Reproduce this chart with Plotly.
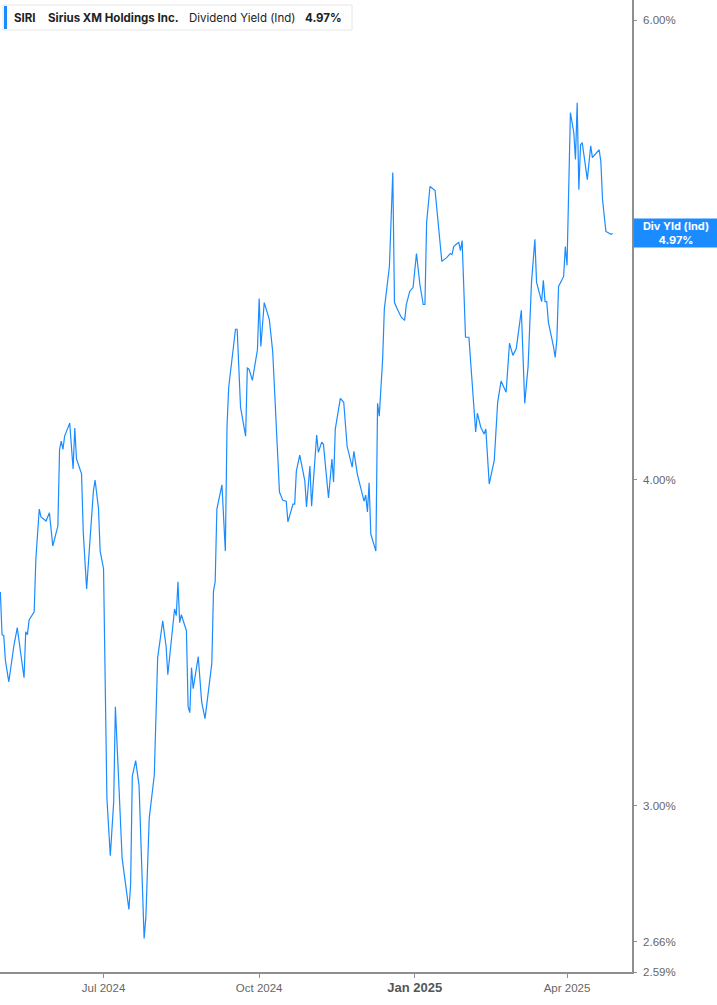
import math
import plotly.graph_objects as go

# ---- data ----
dates = [
    "2024-05-01", "2024-05-02", "2024-05-03", "2024-05-04", "2024-05-06", "2024-05-09", "2024-05-11",
    "2024-05-15", "2024-05-16", "2024-05-17", "2024-05-18", "2024-05-21", "2024-05-22", "2024-05-24",
    "2024-05-25", "2024-05-28", "2024-05-30", "2024-06-01", "2024-06-04", "2024-06-05", "2024-06-06",
    "2024-06-07", "2024-06-08", "2024-06-11", "2024-06-13", "2024-06-14", "2024-06-15", "2024-06-18",
    "2024-06-19", "2024-06-21", "2024-06-25", "2024-06-26", "2024-06-28", "2024-06-29", "2024-07-01",
    "2024-07-03", "2024-07-05", "2024-07-07", "2024-07-08", "2024-07-10", "2024-07-12", "2024-07-16",
    "2024-07-17", "2024-07-18", "2024-07-20", "2024-07-22", "2024-07-24", "2024-07-25", "2024-07-26",
    "2024-07-27", "2024-07-28", "2024-07-31", "2024-08-01", "2024-08-02", "2024-08-05", "2024-08-07",
    "2024-08-08", "2024-08-10", "2024-08-12", "2024-08-13", "2024-08-14", "2024-08-15", "2024-08-16",
    "2024-08-19", "2024-08-20", "2024-08-21", "2024-08-22", "2024-08-23", "2024-08-26", "2024-08-28",
    "2024-08-30", "2024-09-03", "2024-09-04", "2024-09-05", "2024-09-06", "2024-09-09", "2024-09-11",
    "2024-09-12", "2024-09-13", "2024-09-17", "2024-09-18", "2024-09-20", "2024-09-23", "2024-09-24",
    "2024-09-25", "2024-09-27", "2024-09-30", "2024-10-01", "2024-10-02", "2024-10-04", "2024-10-07",
    "2024-10-09", "2024-10-11", "2024-10-13", "2024-10-15", "2024-10-17", "2024-10-18", "2024-10-21",
    "2024-10-22", "2024-10-23", "2024-10-25", "2024-10-28", "2024-10-29", "2024-10-31", "2024-11-01",
    "2024-11-04", "2024-11-05", "2024-11-07", "2024-11-08", "2024-11-11", "2024-11-13", "2024-11-14",
    "2024-11-15", "2024-11-18", "2024-11-20", "2024-11-22", "2024-11-25", "2024-11-26", "2024-11-28",
    "2024-12-02", "2024-12-03", "2024-12-04", "2024-12-05", "2024-12-06", "2024-12-09", "2024-12-10",
    "2024-12-11", "2024-12-13", "2024-12-14", "2024-12-17", "2024-12-19", "2024-12-20", "2024-12-22",
    "2024-12-24", "2024-12-26", "2024-12-27", "2024-12-29", "2024-12-31", "2025-01-02", "2025-01-04",
    "2025-01-06", "2025-01-07", "2025-01-08", "2025-01-10", "2025-01-13", "2025-01-17", "2025-01-20",
    "2025-01-22", "2025-01-23", "2025-01-24", "2025-01-26", "2025-01-27", "2025-01-28", "2025-01-29",
    "2025-01-31", "2025-02-02", "2025-02-06", "2025-02-07", "2025-02-09", "2025-02-11", "2025-02-12",
    "2025-02-14", "2025-02-17", "2025-02-19", "2025-02-21", "2025-02-24", "2025-02-26", "2025-02-28",
    "2025-03-02", "2025-03-05", "2025-03-07", "2025-03-09", "2025-03-11", "2025-03-13", "2025-03-14",
    "2025-03-17", "2025-03-18", "2025-03-19", "2025-03-20", "2025-03-21", "2025-03-24", "2025-03-25",
    "2025-03-26", "2025-03-27", "2025-03-30", "2025-03-31", "2025-04-01", "2025-04-02", "2025-04-03",
    "2025-04-05", "2025-04-06", "2025-04-07", "2025-04-08", "2025-04-09", "2025-04-10", "2025-04-13",
    "2025-04-15", "2025-04-16", "2025-04-20", "2025-04-21", "2025-04-22", "2025-04-24", "2025-04-27",
    "2025-04-28",
]

div_yield = [
    3.622, 3.488, 3.485, 3.409, 3.346, 3.454, 3.510,
    3.358, 3.497, 3.488, 3.534, 3.559, 3.729, 3.897,
    3.870, 3.856, 3.884, 3.772, 3.839, 4.108, 4.138,
    4.108, 4.156, 4.204, 4.037, 4.186, 4.073, 4.020,
    3.819, 3.632, 3.959, 3.998, 3.900, 3.755, 3.697,
    3.018, 2.870, 3.010, 3.273, 3.064, 2.863, 2.737,
    2.796, 3.078, 3.121, 3.053, 2.796, 2.668, 2.716,
    2.868, 2.966, 3.081, 3.287, 3.418, 3.531, 3.451,
    3.367, 3.460, 3.568, 3.547, 3.655, 3.525, 3.550,
    3.500, 3.273, 3.256, 3.388, 3.326, 3.421, 3.287,
    3.239, 3.400, 3.625, 3.655, 3.897, 3.981, 3.755,
    4.193, 4.339, 4.567, 4.567, 4.263, 4.156, 4.413,
    4.409, 4.366, 4.486, 4.693, 4.498, 4.676, 4.607,
    4.479, 4.219, 3.956, 3.927, 3.924, 3.853, 3.914,
    3.914, 4.030, 4.087, 3.995, 3.904, 4.048, 3.907,
    4.160, 4.097, 4.134, 4.126, 3.935, 4.073, 3.991,
    4.182, 4.297, 4.282, 4.119, 4.044, 4.101, 4.020,
    3.924, 3.945, 3.887, 3.988, 3.812, 3.755, 4.278,
    4.230, 4.448, 4.648, 4.828, 5.245, 4.676, 4.644,
    4.616, 4.603, 4.668, 4.722, 4.739, 4.883, 4.752,
    4.668, 4.668, 5.019, 5.180, 5.162, 4.849, 4.866,
    4.883, 4.878, 4.913, 4.926, 4.931, 4.895, 4.939,
    4.535, 4.535, 4.171, 4.241, 4.189, 4.164, 4.182,
    3.984, 4.069, 4.282, 4.363, 4.320, 4.511, 4.463,
    4.490, 4.644, 4.278, 4.421, 4.760, 4.944, 4.760,
    4.680, 4.769, 4.680, 4.680, 4.595, 4.498, 4.455,
    4.527, 4.743, 4.785, 4.913, 4.832, 5.107, 5.529,
    5.433, 5.305, 5.577, 5.166, 5.375, 5.385, 5.212,
    5.370, 5.314, 5.351, 5.295, 5.120, 4.979, 4.966,
    4.970,
]

x_tick_vals = ["2024-07-01", "2024-10-01", "2025-01-01", "2025-04-01"]
x_tick_text = ["Jul 2024", "Oct 2024",
               "<b><span style='font-size:13px;color:#555'>Jan 2025</span></b>", "Apr 2025"]
y_tick_vals = [2.59, 2.66, 3.0, 4.0, 6.0]
y_tick_text = ["2.59%", "2.66%", "3.00%", "4.00%", "6.00%"]

ticker = "SIRI"
company = "Sirius XM Holdings Inc."
metric = "Dividend Yield (Ind)"
last_val = div_yield[-1]

LINE = "#1a8cff"
AXIS = "#8f8f8f"

fig = go.Figure()
fig.add_trace(go.Scatter(
    x=dates, y=div_yield, mode="lines",
    line=dict(color=LINE, width=1.2),
    showlegend=False, hoverinfo="x+y",
))

fig.update_layout(
    width=717, height=1005,
    margin=dict(l=0, r=85, t=0, b=33),
    paper_bgcolor="white", plot_bgcolor="white",
    font=dict(family="Liberation Sans, Arial, sans-serif", color="#666666", size=11),
    xaxis=dict(
        range=["2024-04-30 19:00", "2025-05-09 10:00"],
        tickmode="array", tickvals=x_tick_vals, ticktext=x_tick_text,
        showgrid=False, zeroline=False,
        showline=True, linecolor=AXIS, linewidth=2,
        ticks="outside", ticklen=4, tickcolor=AXIS, tickwidth=1,
        tickfont=dict(size=11.5, color="#666666"),
    ),
    yaxis=dict(
        type="log", side="right",
        range=[math.log10(2.59), math.log10(6.107)],
        tickmode="array", tickvals=y_tick_vals, ticktext=y_tick_text,
        showgrid=False, zeroline=False,
        showline=True, linecolor=AXIS, linewidth=1.5,
        ticks="outside", ticklen=3, tickcolor=AXIS, tickwidth=1,
        ticklabelstandoff=4,
        tickfont=dict(size=11.5, color="#666666"),
    ),
)

# legend box (top-left)
W = 632.0
H = 972.0
fig.add_shape(type="rect", xref="paper", yref="paper",
              x0=3 / W, x1=352 / W, y0=1 - 30 / H, y1=1 - 5 / H,
              line=dict(color="#e6e6e6", width=1), fillcolor="white", layer="above")
fig.add_shape(type="rect", xref="paper", yref="paper",
              x0=4 / W, x1=7 / W, y0=1 - 29 / H, y1=1 - 6 / H,
              line=dict(width=0), fillcolor=LINE, layer="above")

legend_font = dict(family="Inter, Liberation Sans, sans-serif", size=11.5, color="#222222")
for txt, px in [(f"<b>{ticker}</b>", 12), (f"<b>{company}</b>", 46),
                (metric, 187), (f"<b>{last_val:.2f}%</b>", 303)]:
    fig.add_annotation(xref="paper", yref="paper", x=0, y=1, xshift=px, yshift=-17.5,
                       xanchor="left", yanchor="middle", text=txt, showarrow=False,
                       font=legend_font)

# last-value badge on the right axis
fig.add_annotation(xref="paper", yref="y", x=1, y=math.log10(last_val),
                   xanchor="left", yanchor="middle", xshift=1,
                   text=f"<b>Div Yld (Ind)<br>{last_val:.2f}%</b>",
                   showarrow=False, align="center",
                   bgcolor=LINE, borderpad=2, width=80, height=24,
                   font=dict(family="Inter, Liberation Sans, sans-serif", size=11, color="white"))

fig.write_html("out.html", config={"displayModeBar": False},
               post_script="document.body.style.margin='0';")
